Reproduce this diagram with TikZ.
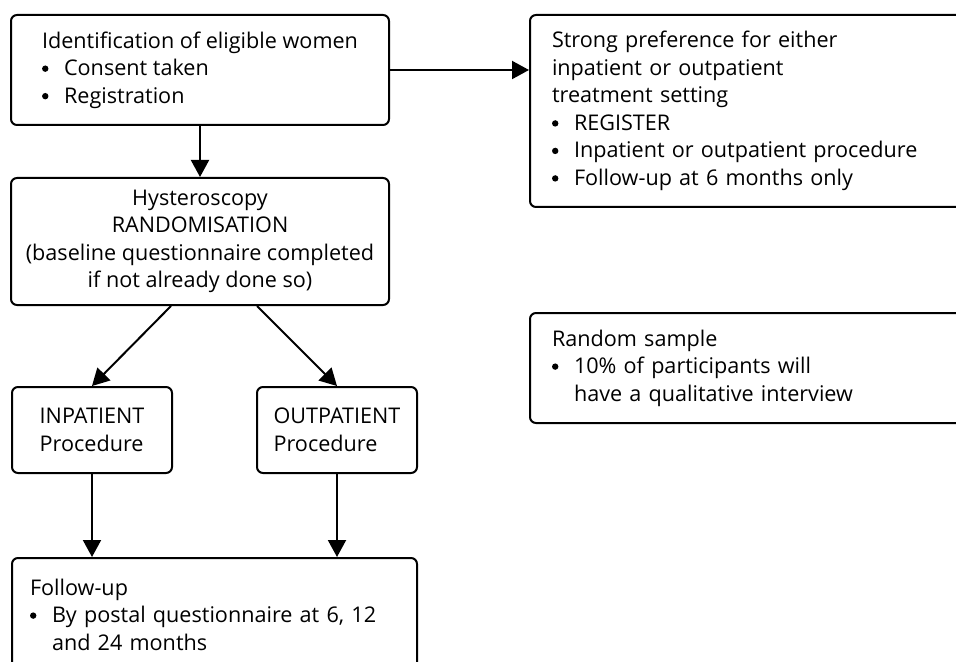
\documentclass[tikz,border=0pt]{standalone}
\usepackage{fontspec}
\setmainfont{Open Sans}
\usetikzlibrary{arrows.meta}
\newcommand{\bitem}{\makebox[11pt][l]{\tikz[baseline=-3.5pt]\fill (0,0) circle (1.6pt);}}
\newcommand{\bgap}{\hspace*{11pt}}
\tikzset{
  box/.style={draw, line width=1pt, rounded corners=3pt, inner ysep=0pt, font=\fontsize{10.8pt}{13.75pt}\selectfont},
  link/.style={line width=1pt, -{Triangle[length=8.5pt,width=9pt]}}
}
\begin{document}
\begin{tikzpicture}[x=0.5pt, y=-0.5pt]
  \useasboundingbox (0,0) rectangle (956,662);
  \node[box, align=left, minimum width=189pt, minimum height=55pt] (ident) at (200,70) {Identification of eligible women\\ \bitem Consent taken\\ \bitem Registration};
  \node[box, align=center, minimum width=189pt, minimum height=63.5pt] (hyst) at (200,241.5) {Hysteroscopy\\ RANDOMISATION\\ (baseline questionnaire completed\\ if not already done so)};
  \node[box, align=left, minimum width=80pt, minimum height=43pt] (inpat) at (92,430) {INPATIENT\\ Procedure};
  \node[box, align=left, minimum width=80pt, minimum height=43pt] (outpat) at (337,430) {OUTPATIENT\\ Procedure};
  \node[box, align=left, inner xsep=9pt, text width=184.5pt, minimum height=56.5pt] (follow) at (214.5,614.5) {Follow-up\\ \bitem By postal questionnaire at 6, 12\\ \bgap and 24 months};
  \node[box, align=left, inner xsep=11pt, text width=203pt, minimum height=96pt] (pref) at (755,111) {Strong preference for either\\ inpatient or outpatient\\ treatment setting\\ \bitem REGISTER\\ \bitem Inpatient or outpatient procedure\\ \bitem Follow-up at 6 months only};
  \node[box, align=left, inner xsep=11pt, text width=203pt, minimum height=55pt] (rand) at (755,368) {Random sample\\ \bitem 10\% of participants will\\ \bgap have a qualitative interview};
  \draw[link] (ident.east) -- (ident.east -| pref.west);
  \draw[link] (ident.south) -- (hyst.north);
  \draw[link] ([xshift=-14.5pt]hyst.south) -- (inpat.north);
  \draw[link] ([xshift=28.5pt]hyst.south) -- (outpat.north);
  \draw[link] (inpat.south) -- (inpat.south |- follow.north);
  \draw[link] (outpat.south) -- (outpat.south |- follow.north);
\end{tikzpicture}
\end{document}
